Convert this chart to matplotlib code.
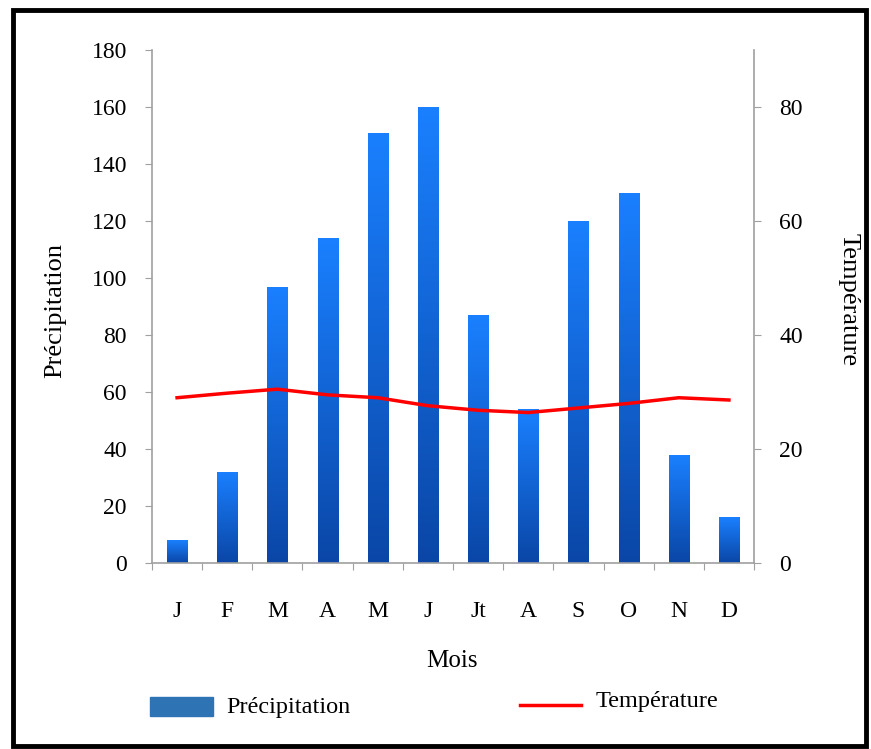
import numpy as np
import matplotlib
matplotlib.use("Agg")
import matplotlib.pyplot as plt
from matplotlib.patches import Rectangle
from matplotlib.lines import Line2D

months = ["J", "F", "M", "A", "M", "J", "Jt", "A", "S", "O", "N", "D"]
precipitation = [8, 32, 97, 114, 151, 160, 87, 54, 120, 130, 38, 16]
temperature = [29, 29.8, 30.5, 29.5, 29, 27.6, 26.8, 26.4, 27.2, 28, 29, 28.6]

plt.rcParams["font.family"] = ["Liberation Serif", "DejaVu Serif"]

fig = plt.figure(figsize=(8.71, 7.49), dpi=100)
ax = fig.add_axes([0.1745, 0.2483, 0.6912, 0.6849])
ax2 = ax.twinx()

x = np.arange(len(months))
width = 0.4
grad = np.linspace(0, 1, 256).reshape(-1, 1)
cmap = matplotlib.colors.LinearSegmentedColormap.from_list(
    "bar", ["#0a46a6", "#1a80ff"])

bars = ax.bar(x, precipitation, width, color="none", edgecolor="none", zorder=2)
for b in bars:
    im = ax.imshow(grad, cmap=cmap, aspect="auto", origin="lower",
                   extent=[b.get_x(), b.get_x() + b.get_width(), 0, b.get_height()],
                   zorder=2)
    im.set_clip_path(b)

ax.set_xlim(-0.5, 11.5)
ax.set_ylim(0, 180)
ax.set_yticks(range(0, 181, 20))
ax2.set_ylim(0, 90)
ax2.set_yticks(range(0, 81, 20))
ax2.plot(x, temperature, color="#ff0000", lw=2.5, zorder=3)

# month ticks at category boundaries, labels in the middle
ax.set_xticks(np.arange(-0.5, 12, 1))
ax.set_xticklabels([])
ax.set_xticks(x, minor=True)
ax.set_xticklabels(months, minor=True, fontsize=17)
ax.tick_params(axis="x", which="minor", length=0, pad=27)
ax.tick_params(axis="x", which="major", length=5, color="#a0a0a0")

for a in (ax, ax2):
    a.spines["top"].set_visible(False)
    for s in ("left", "right", "bottom"):
        a.spines[s].set_color("#a0a0a0")
        a.spines[s].set_linewidth(1.2)
    a.tick_params(axis="y", labelsize=17, length=5, color="#a0a0a0", pad=13)
ax.spines["right"].set_visible(False)
ax2.spines["left"].set_visible(False)
ax2.spines["bottom"].set_visible(False)

fig.text(0.063, 0.585, "Précipitation", rotation=90, ha="center", va="center", fontsize=19)
fig.text(0.974, 0.6, "Température", rotation=270, ha="center", va="center", fontsize=19)
fig.text(0.519, 0.118, "Mois", ha="center", va="center", fontsize=18)

# legend
fig.patches.append(Rectangle((150 / 871, 1 - 716 / 749), 63 / 871, 19 / 749,
                             transform=fig.transFigure, color="#2e74b5"))
fig.text(226 / 871, 1 - 707 / 749, "Précipitation", ha="left", va="center", fontsize=17.5)
fig.lines.append(Line2D([520 / 871, 581 / 871], [1 - 705 / 749, 1 - 705 / 749],
                        transform=fig.transFigure, color="#ff0000", lw=2.5))
fig.text(596 / 871, 1 - 701 / 749, "Température", ha="left", va="center", fontsize=17.5)

# black frame
fig.patches.append(Rectangle((13 / 871, 1 - 746 / 749), 853 / 871, 736 / 749,
                             transform=fig.transFigure, fill=False,
                             edgecolor="black", lw=3.5))

fig.savefig("out.png", dpi=100)
